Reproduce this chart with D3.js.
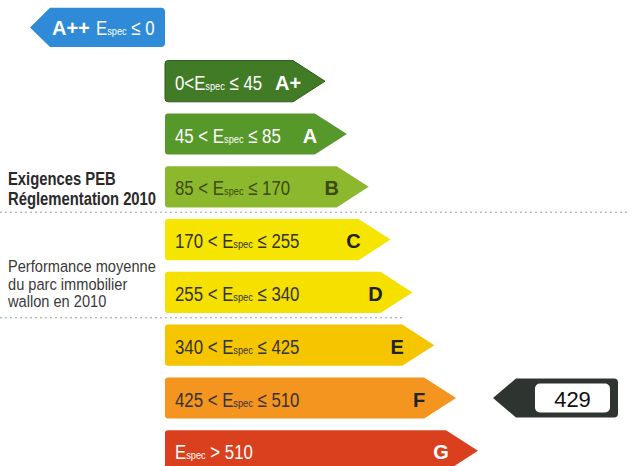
<!DOCTYPE html>
<html><head><meta charset="utf-8">
<script src="https://cdn.jsdelivr.net/npm/d3@7"></script>
<style>
body{margin:0;background:#fff;}
svg{display:block;}
</style></head>
<body>
<svg id="c" width="639" height="466"></svg>
<script>
const classes = ["A++","A+","A","B","C","D","E","F","G"];
const lowerBounds = [null, 0, 45, 85, 170, 255, 340, 425, 510];
const upperBounds = [0, 45, 85, 170, 255, 340, 425, 510, null];
const colors = ["#2f8bd8","#417b25","#57982b","#8cb82d","#f5e500","#f6e000","#f5c600","#f3951e","#db401e"];
const textColors = ["#fff","#fff","#fff","#3d4a12","#333","#333","#333","#333","#fff"];
const buildingValue = 429;
const notes = [
  {after:"B", lines:["Exigences PEB","Réglementation 2010"], bold:true, full:true},
  {after:"D", lines:["Performance moyenne","du parc immobilier","wallon en 2010"], bold:false, full:false}
];

const svg = d3.select("#c");
const sans = "'Liberation Sans', Arial, sans-serif";

const y = d3.scaleBand().domain(classes).range([2, 2 + 9*52.8]).paddingInner(0.22).paddingOuter(0.11);
const tipX = d3.scaleLinear().domain([1, 8]).range([325, 478]);
const x0 = 165, tipLen = 32;

function classOf(v){
  for (let i = 0; i < classes.length; i++){
    const lo = lowerBounds[i], hi = upperBounds[i];
    if ((lo === null || v > lo) && (hi === null || v <= hi)) return classes[i];
  }
}

// condensed text: horizontal squeeze via transform
function condText(parent, x, yy, sx){
  return parent.append("g").attr("transform", `translate(${x},${yy}) scale(${sx},1)`)
    .append("text").attr("x", 0).attr("y", 0).attr("font-family", sans);
}

function rangeLabel(sel, i){
  const lo = lowerBounds[i], hi = upperBounds[i];
  if (lo !== null && hi !== null) sel.append("tspan").text(lo + (i===1 ? "<" : " < "));
  sel.append("tspan").text("E");
  sel.append("tspan").attr("font-size", "0.55em").text("spec");
  if (hi !== null) sel.append("tspan").text(" ≤ " + hi);
  else sel.append("tspan").text(" > " + lo);
}

classes.forEach((c, i) => {
  const top = y(c), h = y.bandwidth(), cy = top + h/2;
  const g = svg.append("g");
  if (i === 0) {
    const hh = h - 2, t = cy - hh/2 - 1, r = 4;
    const left = 50, tip = 30;
    const ccy = t + hh/2;
    g.append("path")
      .attr("d", `M${tip},${ccy} L${left},${t} L${x0-r},${t} Q${x0},${t} ${x0},${t+r} L${x0},${t+hh-r} Q${x0},${t+hh} ${x0-r},${t+hh} L${left},${t+hh} Z`)
      .attr("fill", colors[i]);
    g.append("text").attr("x", 52).attr("y", ccy + 8).attr("fill", "#fff")
      .attr("font-family", sans).attr("font-weight", "bold").attr("font-size", 20)
      .text(c);
    const t2 = condText(g, 96, ccy + 8, 0.8).attr("fill", "#fff").attr("font-size", 21);
    rangeLabel(t2, i);
  } else {
    const tx = tipX(i), bx = tx - tipLen, r = 3;
    g.append("path")
      .attr("d", `M${x0+r},${top} L${bx},${top} L${tx},${cy} L${bx},${top+h} L${x0+r},${top+h} Q${x0},${top+h} ${x0},${top+h-r} L${x0},${top+r} Q${x0},${top} ${x0+r},${top} Z`)
      .attr("fill", colors[i])
      .attr("stroke", i===1 ? "#2f5a1a" : "none").attr("stroke-width", 1);
    const t2 = condText(g, 175, cy + 8.5, 0.8).attr("fill", textColors[i]).attr("font-size", 21);
    rangeLabel(t2, i);
    g.append("text").attr("x", tx - 37).attr("y", cy + 8.5).attr("text-anchor", "middle")
      .attr("fill", textColors[i] === "#333" ? "#222" : textColors[i])
      .attr("font-family", sans).attr("font-weight", "bold").attr("font-size", 20)
      .text(c);
  }
});

notes.forEach(n => {
  const idx = classes.indexOf(n.after);
  const sepY = (y(classes[idx]) + y.bandwidth() + y(classes[idx+1])) / 2 - 1;
  svg.append("line").attr("x1", 0).attr("x2", n.full ? 630 : 403)
    .attr("y1", sepY).attr("y2", sepY)
    .attr("stroke", "#9a9a9a").attr("stroke-width", 1).attr("stroke-dasharray", "2,3");
  if (n.bold) {
    n.lines.forEach((l, k) => condText(svg, 8, 185 + k*20, 0.78)
      .attr("font-size", 19).attr("font-weight", "bold").attr("fill", "#2a2a2a").text(l));
  } else {
    n.lines.forEach((l, k) => condText(svg, 8, 272 + k*17.5, 0.86)
      .attr("font-size", 17).attr("fill", "#3a3a3a").text(l));
  }
});

const vc = classOf(buildingValue);
const icy = y(vc) + y.bandwidth()/2;
const ih = 39, it = icy - ih/2, il = 516, ir = 618, itip = 493;
svg.append("path")
  .attr("d", `M${itip},${icy} L${il},${it} L${ir-4},${it} Q${ir},${it} ${ir},${it+4} L${ir},${it+ih-4} Q${ir},${it+ih} ${ir-4},${it+ih} L${il},${it+ih} Z`)
  .attr("fill", "#2e3530");
svg.append("rect").attr("x", 535).attr("y", it + 5).attr("width", 75).attr("height", ih - 10)
  .attr("rx", 5).attr("fill", "#fff");
svg.append("text").attr("x", 572.5).attr("y", icy + 8.5).attr("text-anchor", "middle")
  .attr("font-family", sans).attr("font-size", 22).attr("fill", "#111")
  .text(buildingValue);
</script>
</body></html>
